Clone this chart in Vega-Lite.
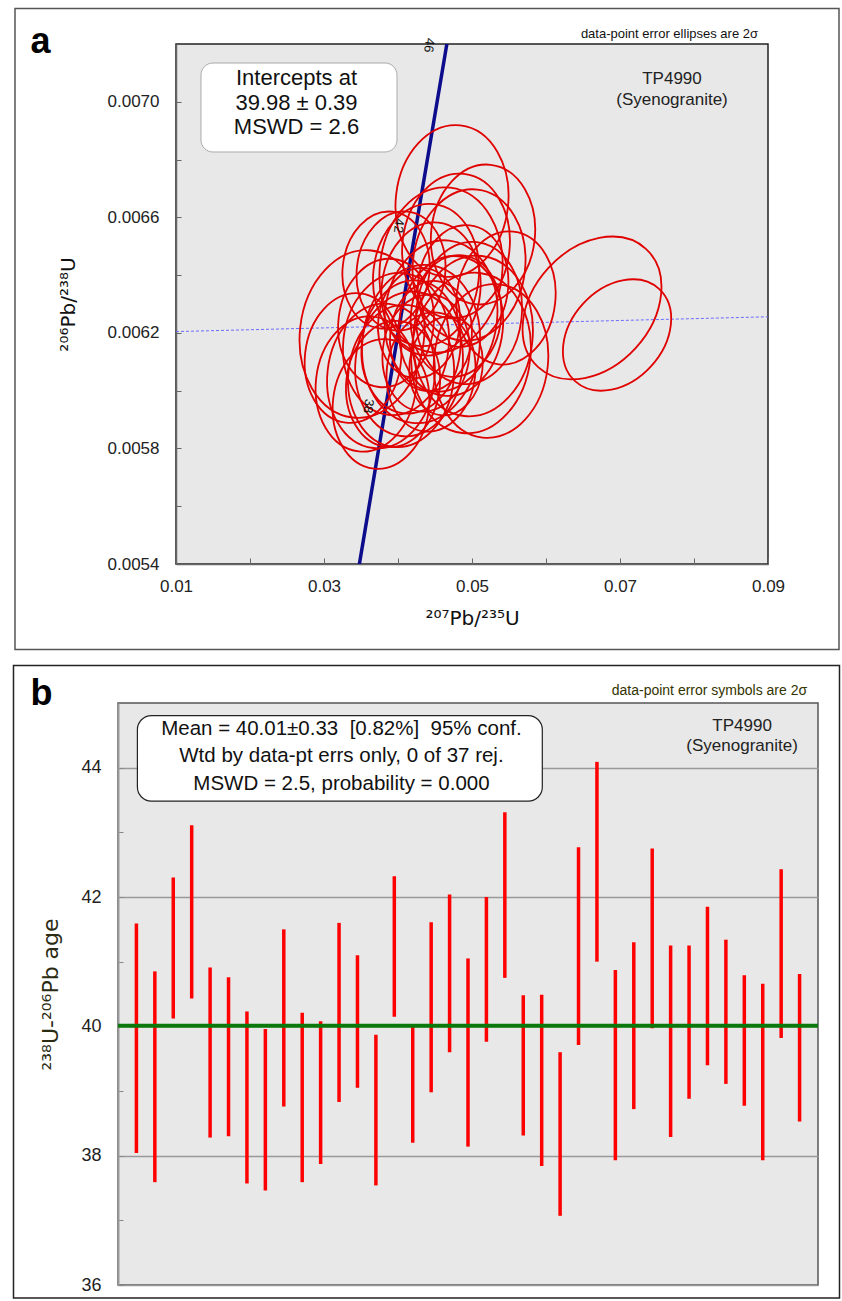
{
  "$schema": "https://vega.github.io/schema/vega-lite/v6.json",
  "background": "white",
  "padding": {"left": 11, "top": 6, "right": 0, "bottom": 0},
  "spacing": 12,
  "config": {"font": "Liberation Sans", "view": {"stroke": null}},
  "datasets": {
    "ellipses": [
      {"n": 1, "pb207_u235": 0.03514, "pb206_u238": 0.0061962, "err2s": 0.0002908, "rho": 0.07},
      {"n": 2, "pb207_u235": 0.05257, "pb206_u238": 0.0061027, "err2s": 0.0002665, "rho": 0.07},
      {"n": 3, "pb207_u235": 0.04041, "pb206_u238": 0.0064142, "err2s": 0.000207, "rho": 0.07},
      {"n": 4, "pb207_u235": 0.04784, "pb206_u238": 0.0065008, "err2s": 0.0002508, "rho": 0.07},
      {"n": 5, "pb207_u235": 0.03973, "pb206_u238": 0.0061615, "err2s": 0.0002468, "rho": 0.07},
      {"n": 6, "pb207_u235": 0.04176, "pb206_u238": 0.0061512, "err2s": 0.0002309, "rho": 0.07},
      {"n": 7, "pb207_u235": 0.0377, "pb206_u238": 0.0060508, "err2s": 0.0002508, "rho": 0.07},
      {"n": 8, "pb207_u235": 0.03568, "pb206_u238": 0.0060231, "err2s": 0.0002348, "rho": 0.07},
      {"n": 9, "pb207_u235": 0.06622, "pb206_u238": 0.0062862, "err2s": 0.000277, "rho": 0.47},
      {"n": 10, "pb207_u235": 0.04041, "pb206_u238": 0.0060508, "err2s": 0.0002468, "rho": 0.07},
      {"n": 11, "pb207_u235": 0.04446, "pb206_u238": 0.0060646, "err2s": 0.000207, "rho": 0.07},
      {"n": 12, "pb207_u235": 0.04581, "pb206_u238": 0.0062585, "err2s": 0.0002628, "rho": 0.07},
      {"n": 13, "pb207_u235": 0.04284, "pb206_u238": 0.0062342, "err2s": 0.0001911, "rho": 0.07},
      {"n": 14, "pb207_u235": 0.03933, "pb206_u238": 0.0060231, "err2s": 0.000219, "rho": 0.07},
      {"n": 15, "pb207_u235": 0.03838, "pb206_u238": 0.0064177, "err2s": 0.000203, "rho": 0.07},
      {"n": 16, "pb207_u235": 0.04649, "pb206_u238": 0.0060854, "err2s": 0.0001711, "rho": 0.07},
      {"n": 17, "pb207_u235": 0.0496, "pb206_u238": 0.0062689, "err2s": 0.0002468, "rho": 0.07},
      {"n": 18, "pb207_u235": 0.04446, "pb206_u238": 0.0063519, "err2s": 0.0002309, "rho": 0.07},
      {"n": 19, "pb207_u235": 0.04311, "pb206_u238": 0.0061615, "err2s": 0.0002746, "rho": 0.07},
      {"n": 20, "pb207_u235": 0.04879, "pb206_u238": 0.0063623, "err2s": 0.000211, "rho": 0.07},
      {"n": 21, "pb207_u235": 0.05149, "pb206_u238": 0.0065406, "err2s": 0.0002428, "rho": 0.07},
      {"n": 22, "pb207_u235": 0.04379, "pb206_u238": 0.0061304, "err2s": 0.000203, "rho": 0.07},
      {"n": 23, "pb207_u235": 0.04149, "pb206_u238": 0.0060923, "err2s": 0.0002508, "rho": 0.07},
      {"n": 24, "pb207_u235": 0.0377, "pb206_u238": 0.0059538, "err2s": 0.000225, "rho": 0.07},
      {"n": 25, "pb207_u235": 0.04581, "pb206_u238": 0.0064177, "err2s": 0.0002866, "rho": 0.07},
      {"n": 26, "pb207_u235": 0.0473, "pb206_u238": 0.0066565, "err2s": 0.0002631, "rho": 0.07},
      {"n": 27, "pb207_u235": 0.04987, "pb206_u238": 0.0061304, "err2s": 0.0002786, "rho": 0.07},
      {"n": 28, "pb207_u235": 0.04716, "pb206_u238": 0.0062239, "err2s": 0.0002428, "rho": 0.07},
      {"n": 29, "pb207_u235": 0.0496, "pb206_u238": 0.006435, "err2s": 0.0002628, "rho": 0.07},
      {"n": 30, "pb207_u235": 0.05014, "pb206_u238": 0.0061892, "err2s": 0.0002786, "rho": 0.07},
      {"n": 31, "pb207_u235": 0.03838, "pb206_u238": 0.0062342, "err2s": 0.0002229, "rho": 0.07},
      {"n": 32, "pb207_u235": 0.0546, "pb206_u238": 0.0063208, "err2s": 0.0002309, "rho": 0.07},
      {"n": 33, "pb207_u235": 0.04784, "pb206_u238": 0.0062585, "err2s": 0.000211, "rho": 0.07},
      {"n": 34, "pb207_u235": 0.04446, "pb206_u238": 0.0061892, "err2s": 0.0001911, "rho": 0.07},
      {"n": 35, "pb207_u235": 0.03392, "pb206_u238": 0.0061131, "err2s": 0.000225, "rho": 0.07},
      {"n": 36, "pb207_u235": 0.04379, "pb206_u238": 0.0064004, "err2s": 0.0002468, "rho": 0.07},
      {"n": 37, "pb207_u235": 0.0696, "pb206_u238": 0.0061927, "err2s": 0.000216, "rho": 0.47}
    ],
    "concordia": [
      {"age": 34.7, "pb207_u235": 0.034765, "pb206_u238": 0.0053973},
      {"age": 38, "pb207_u235": 0.0381334, "pb206_u238": 0.0059121},
      {"age": 42, "pb207_u235": 0.0422311, "pb206_u238": 0.0065365},
      {"age": 46, "pb207_u235": 0.046345, "pb206_u238": 0.0071613},
      {"age": 46.3, "pb207_u235": 0.0466541, "pb206_u238": 0.0072081}
    ],
    "discordia": [
      {"pb207_u235": 0.01, "pb206_u238": 0.0062045},
      {"pb207_u235": 0.09, "pb206_u238": 0.0062557}
    ],
    "bars": [
      {"analysis": 1, "age_lo": 38.04, "age_hi": 41.59},
      {"analysis": 2, "age_lo": 37.59, "age_hi": 40.85},
      {"analysis": 3, "age_lo": 40.12, "age_hi": 42.3},
      {"analysis": 4, "age_lo": 40.43, "age_hi": 43.11},
      {"analysis": 5, "age_lo": 38.28, "age_hi": 40.91},
      {"analysis": 6, "age_lo": 38.3, "age_hi": 40.76},
      {"analysis": 7, "age_lo": 37.57, "age_hi": 40.23},
      {"analysis": 8, "age_lo": 37.46, "age_hi": 39.96},
      {"analysis": 9, "age_lo": 38.76, "age_hi": 41.5},
      {"analysis": 10, "age_lo": 37.59, "age_hi": 40.21},
      {"analysis": 11, "age_lo": 37.87, "age_hi": 40.08},
      {"analysis": 12, "age_lo": 38.83, "age_hi": 41.6},
      {"analysis": 13, "age_lo": 39.05, "age_hi": 41.1},
      {"analysis": 14, "age_lo": 37.54, "age_hi": 39.87},
      {"analysis": 15, "age_lo": 40.15, "age_hi": 42.32},
      {"analysis": 16, "age_lo": 38.2, "age_hi": 40.01},
      {"analysis": 17, "age_lo": 38.98, "age_hi": 41.61},
      {"analysis": 18, "age_lo": 39.6, "age_hi": 42.04},
      {"analysis": 19, "age_lo": 38.14, "age_hi": 41.05},
      {"analysis": 20, "age_lo": 39.76, "age_hi": 42.0},
      {"analysis": 21, "age_lo": 40.75, "age_hi": 43.31},
      {"analysis": 22, "age_lo": 38.31, "age_hi": 40.48},
      {"analysis": 23, "age_lo": 37.84, "age_hi": 40.49},
      {"analysis": 24, "age_lo": 37.07, "age_hi": 39.6},
      {"analysis": 25, "age_lo": 39.71, "age_hi": 42.77},
      {"analysis": 26, "age_lo": 41.0, "age_hi": 44.09},
      {"analysis": 27, "age_lo": 37.93, "age_hi": 40.87},
      {"analysis": 28, "age_lo": 38.72, "age_hi": 41.3},
      {"analysis": 29, "age_lo": 39.97, "age_hi": 42.75},
      {"analysis": 30, "age_lo": 38.29, "age_hi": 41.25},
      {"analysis": 31, "age_lo": 38.88, "age_hi": 41.25},
      {"analysis": 32, "age_lo": 39.4, "age_hi": 41.85},
      {"analysis": 33, "age_lo": 39.11, "age_hi": 41.34},
      {"analysis": 34, "age_lo": 38.77, "age_hi": 40.79},
      {"analysis": 35, "age_lo": 37.93, "age_hi": 40.66},
      {"analysis": 36, "age_lo": 39.82, "age_hi": 42.43},
      {"analysis": 37, "age_lo": 38.53, "age_hi": 40.81}
    ]
  },
  "vconcat": [
    {
      "bounds": "flush",
      "spacing": 0,
      "hconcat": [
        {
          "width": 58,
          "height": 520,
          "data": {"values": []},
          "mark": {"type": "point", "opacity": 0},
          "view": {"stroke": null, "fill": null}
        },
        {
          "width": 592,
          "height": 520,
          "view": {"fill": "#e8e8e8", "stroke": "#222", "strokeWidth": 1.5},
          "layer": [
            {
              "data": {"values": [{}]},
              "mark": {"type": "rect", "fill": null, "stroke": "#555", "strokeWidth": 1.5},
              "encoding": {
                "x": {
                  "datum": -0.011757, "type": "quantitative",
                  "scale": {"domain": [0.01, 0.09], "nice": false, "zero": false},
                  "axis": {
                    "title": "²⁰⁷Pb/²³⁵U", "titleFont": "DejaVu Sans", "titleFontSize": 20, "titleFontWeight": "normal", "titleColor": "#111", "titlePadding": 14,
                    "values": [0.01, 0.02, 0.03, 0.04, 0.05, 0.06, 0.07, 0.08, 0.09],
                    "labelExpr": "round(datum.value*100) % 2 == 0 ? '' : format(datum.value, '.2f')",
                    "labelFontSize": 17, "labelColor": "#222", "labelPadding": 20, "labelFlush": false, "labelOverlap": false,
                    "tickSize": -6, "tickColor": "#666", "domainColor": "#666", "domainWidth": 1.5, "grid": false
                  }
                },
                "x2": {"datum": 0.099595},
                "y": {
                  "datum": 0.0073229, "type": "quantitative",
                  "scale": {"domain": [0.0054, 0.0072], "nice": false, "zero": false},
                  "axis": {
                    "title": "²⁰⁶Pb/²³⁸U", "titleFont": "DejaVu Sans", "titleFontSize": 20, "titleFontWeight": "normal", "titleColor": "#111", "titlePadding": 29,
                    "values": [0.0054, 0.0056, 0.0058, 0.006, 0.0062, 0.0064, 0.0066, 0.0068, 0.007],
                    "labelExpr": "round(datum.value*10000) % 4 == 0 ? '' : format(datum.value, '.4f')",
                    "labelFontSize": 17, "labelColor": "#222", "labelPadding": 22, "labelOverlap": false,
                    "tickSize": -5, "tickColor": "#666", "domainColor": "#666", "domainWidth": 1.5, "grid": false
                  }
                },
                "y2": {"datum": 0.0051041}
              }
            },
            {
              "data": {"name": "discordia"},
              "mark": {"type": "line", "color": "#6b6bff", "strokeWidth": 1, "strokeDash": [3, 2]},
              "encoding": {
                "x": {"field": "pb207_u235", "type": "quantitative", "title": "²⁰⁷Pb/²³⁵U"},
                "y": {"field": "pb206_u238", "type": "quantitative", "title": "²⁰⁶Pb/²³⁸U"}
              }
            },
            {
              "data": {"name": "concordia"},
              "mark": {"type": "line", "color": "#0c0c8c", "strokeWidth": 3.5, "clip": true},
              "encoding": {
                "x": {"field": "pb207_u235", "type": "quantitative", "title": "²⁰⁷Pb/²³⁵U"},
                "y": {"field": "pb206_u238", "type": "quantitative", "title": "²⁰⁶Pb/²³⁸U"}
              }
            },
            {
              "data": {"name": "ellipses"},
              "mark": {
                "type": "point",
                "shape": "M 0 -1 A 0.74 1 0 1 1 0 1 A 0.74 1 0 1 1 0 -1 Z",
                "filled": false, "color": "#e00000", "strokeWidth": 1.8, "opacity": 1
              },
              "encoding": {
                "x": {"field": "pb207_u235", "type": "quantitative", "title": "²⁰⁷Pb/²³⁵U"},
                "y": {"field": "pb206_u238", "type": "quantitative", "title": "²⁰⁶Pb/²³⁸U"},
                "size": {"field": "err2s", "type": "quantitative", "scale": {"type": "pow", "exponent": 2, "domain": [0, 0.0004], "range": [0, 53412]}, "legend": null},
                "angle": {"field": "rho", "type": "quantitative", "scale": {"domain": [0, 1], "range": [0, 90]}, "legend": null}
              }
            },
            {
              "data": {"name": "concordia"},
              "transform": [{"filter": {"field": "age", "oneOf": [38, 42, 46]}}],
              "mark": {"type": "text", "angle": 97, "dx": -8, "dy": 17, "fontSize": 13, "color": "#111", "align": "center", "baseline": "middle"},
              "encoding": {
                "x": {"field": "pb207_u235", "type": "quantitative", "title": "²⁰⁷Pb/²³⁵U"},
                "y": {"field": "pb206_u238", "type": "quantitative", "title": "²⁰⁶Pb/²³⁸U"},
                "text": {"field": "age", "type": "quantitative", "format": "d"}
              }
            },
            {
              "data": {"values": [{}]},
              "mark": {"type": "rect", "fill": "white", "stroke": "#aaa", "strokeWidth": 1, "cornerRadius": 12},
              "encoding": {
                "x": {"datum": 0.013378, "type": "quantitative"},
                "x2": {"datum": 0.039865},
                "y": {"datum": 0.0071342, "type": "quantitative"},
                "y2": {"datum": 0.0068262}
              }
            },
            {
              "data": {"values": [{}]},
              "mark": {"type": "text", "text": ["Intercepts at", "39.98 ± 0.39", "MSWD = 2.6"], "fontSize": 22, "lineHeight": 24.5, "align": "center", "baseline": "middle", "color": "#111"},
              "encoding": {
                "x": {"datum": 0.026284, "type": "quantitative"},
                "y": {"datum": 0.0070823, "type": "quantitative"}
              }
            },
            {
              "data": {"values": [{}]},
              "mark": {"type": "text", "text": ["TP4990", "(Syenogranite)"], "fontSize": 17, "lineHeight": 21, "align": "center", "baseline": "middle", "color": "#222"},
              "encoding": {
                "x": {"datum": 0.077027, "type": "quantitative"},
                "y": {"datum": 0.0070788, "type": "quantitative"}
              }
            },
            {
              "data": {"values": [{}]},
              "mark": {"type": "text", "text": "data-point error ellipses are 2σ", "fontSize": 13, "align": "right", "baseline": "middle", "color": "#111"},
              "encoding": {
                "x": {"datum": 0.088649, "type": "quantitative"},
                "y": {"datum": 0.0072346, "type": "quantitative"}
              }
            },
            {
              "data": {"values": [{}]},
              "mark": {"type": "text", "text": "a", "fontSize": 36, "fontWeight": "bold", "align": "center", "baseline": "alphabetic", "color": "#000"},
              "encoding": {
                "x": {"datum": -0.008311, "type": "quantitative"},
                "y": {"datum": 0.0071688, "type": "quantitative"}
              }
            }
          ]
        }
      ]
    },
    {
      "width": 700,
      "height": 582,
      "view": {"fill": "#e8e8e8", "stroke": "#555", "strokeWidth": 1.5},
      "layer": [
        {
          "data": {"values": [{}]},
          "mark": {"type": "rect", "fill": null, "stroke": "#222", "strokeWidth": 1.5},
          "encoding": {
            "x": {"datum": -5.673, "type": "quantitative", "scale": {"domain": [0, 38], "nice": false, "zero": false}, "axis": null},
            "x2": {"datum": 39.167},
            "y": {"datum": 45.58, "type": "quantitative", "scale": {"domain": [36, 45], "nice": false, "zero": false}},
            "y2": {"datum": 35.8}
          }
        },
        {
          "data": {"name": "bars"},
          "mark": {"type": "rule", "color": "#ff0000", "strokeWidth": 3.5},
          "encoding": {
            "x": {"field": "analysis", "type": "quantitative", "axis": null},
            "y": {
              "field": "age_lo", "type": "quantitative",
              "axis": {
                "title": "²³⁸U-²⁰⁶Pb age", "titleFont": "DejaVu Sans", "titleFontSize": 22, "titleFontWeight": "normal", "titleColor": "#2b2b14", "titlePadding": 18,
                "values": [36, 37, 38, 39, 40, 41, 42, 43, 44],
                "labelExpr": "datum.value % 2 == 1 ? '' : format(datum.value, 'd')",
                "labelFontSize": 18, "labelColor": "#222", "labelPadding": 22, "labelOverlap": false,
                "tickSize": -5, "tickColor": "#888", "domainColor": "#999", "domainWidth": 2,
                "grid": true, "gridColor": "#999", "gridWidth": 1.5,
                "gridOpacity": {"condition": {"test": "datum.value % 2 == 1", "value": 0}, "value": 1}
              }
            },
            "y2": {"field": "age_hi"}
          }
        },
        {
          "data": {"values": [{"mean_age": 40.01}]},
          "mark": {"type": "rule", "color": "#0a780a", "strokeWidth": 4},
          "encoding": {"y": {"field": "mean_age", "type": "quantitative", "title": "²³⁸U-²⁰⁶Pb age"}}
        },
        {
          "data": {"values": [{}]},
          "mark": {"type": "rect", "fill": "white", "stroke": "#222", "strokeWidth": 1.2, "cornerRadius": 14},
          "encoding": {
            "x": {"datum": 1.053, "type": "quantitative"},
            "x2": {"datum": 23.034},
            "y": {"datum": 44.805, "type": "quantitative"},
            "y2": {"datum": 43.483}
          }
        },
        {
          "data": {"values": [{}]},
          "mark": {"type": "text", "text": ["Mean = 40.01±0.33\u00a0 [0.82%]\u00a0 95% conf.", "Wtd by data-pt errs only, 0 of 37 rej.", "MSWD = 2.5, probability = 0.000"], "fontSize": 20.5, "lineHeight": 27.5, "align": "center", "baseline": "middle", "color": "#111"},
          "encoding": {
            "x": {"datum": 12.13, "type": "quantitative"},
            "y": {"datum": 44.598, "type": "quantitative"}
          }
        },
        {
          "data": {"values": [{}]},
          "mark": {"type": "text", "text": ["TP4990", "(Syenogranite)"], "fontSize": 17, "lineHeight": 20, "align": "center", "baseline": "middle", "color": "#222"},
          "encoding": {
            "x": {"datum": 33.88, "type": "quantitative"},
            "y": {"datum": 44.644, "type": "quantitative"}
          }
        },
        {
          "data": {"values": [{}]},
          "mark": {"type": "text", "text": "data-point error symbols are 2σ", "fontSize": 14, "align": "right", "baseline": "middle", "color": "#333300"},
          "encoding": {
            "x": {"datum": 37.41, "type": "quantitative"},
            "y": {"datum": 45.19, "type": "quantitative"}
          }
        },
        {
          "data": {"values": [{}]},
          "mark": {"type": "text", "text": "b", "fontSize": 36, "fontWeight": "bold", "align": "center", "baseline": "alphabetic", "color": "#000"},
          "encoding": {
            "x": {"datum": -4.153, "type": "quantitative"},
            "y": {"datum": 44.969, "type": "quantitative"}
          }
        }
      ]
    }
  ]
}
